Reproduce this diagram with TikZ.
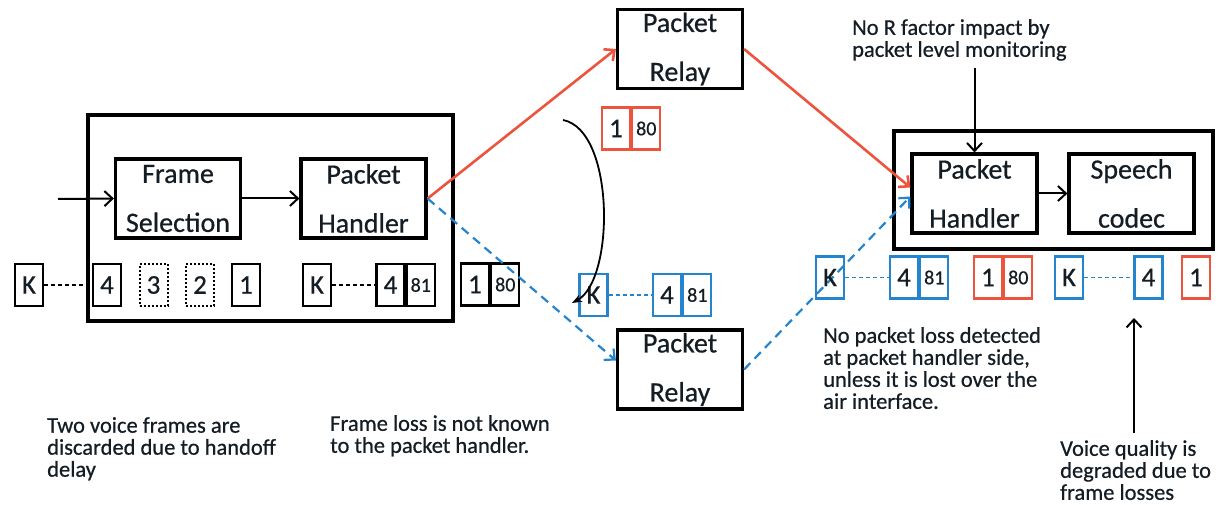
\documentclass[tikz,border=0pt]{standalone}
\usepackage{fontspec}
\setmainfont{Carlito}[FakeBold=0.6]
\usetikzlibrary{arrows.meta}

\definecolor{pathred}{RGB}{236,84,62}
\definecolor{pathblue}{RGB}{36,132,206}
\definecolor{ink}{RGB}{20,28,36}

\tikzset{
  unit/.style={draw=black, line width=3.2pt, minimum width=125pt, minimum height=79pt,
    inner sep=0pt, align=center, text=ink, font=\fontsize{28}{28}\selectfont},
  enclosure/.style={draw, line width=3.2pt, inner sep=0pt},
  pk/.style={draw, line width=2.3pt, minimum width=28pt, minimum height=42pt,
    inner sep=0pt, text=ink, font=\fontsize{27}{27}\selectfont},
  seqno/.style={pk, anchor=west, font=\fontsize{20}{20}\selectfont},
  lost/.style={pk, line width=2pt, dash pattern=on 2pt off 2pt},
  note/.style={align=left, inner sep=0pt, anchor=north west, text=ink,
    font=\fontsize{22.5}{22}\selectfont},
  gap/.style={line width=1.6pt, dash pattern=on 4pt off 3pt},
  wire/.style={->, line width=2pt},
  redpath/.style={pathred, line width=2.6pt},
  bluepath/.style={pathblue, line width=2.2pt, dash pattern=on 9pt off 6pt},
}

\begin{document}
\begin{tikzpicture}[x=1pt, y=-1pt, >={Straight Barb[length=8pt,width=15pt]}]
  \useasboundingbox (0,0) rectangle (1220,505);

  % Sending side
  \node[enclosure, minimum width=365pt, minimum height=206pt] (tx) at (270.5,218) {};
  \node[unit] (fs) at (178,198.5) {Frame\\[21pt]Selection};
  \node[unit] (ph) at (363.5,198.5) {Packet\\[21pt]Handler};
  \coordinate (in) at (58,199);
  \draw[wire] (in) -- (fs.west);
  \draw[wire] (fs) -- (ph);

  % Frames at the sending side
  \node[pk] (k1) at (29,285) {K};
  \node[pk] (f4) at (107,285) {4};
  \node[lost] (f3) at (153.5,285) {3};
  \node[lost] (f2) at (200,285) {2};
  \node[pk] (f1) at (246,285) {1};
  \draw[gap] (k1) -- (f4);
  \node[pk] (k2) at (317,285) {K};
  \node[pk] (p4) at (390.5,285) {4};
  \node[seqno] (p81) at (p4.east) {81};
  \draw[gap] (k2) -- (p4);
  \node[pk] (o1) at (475,284.5) {1};
  \node[seqno] (o80) at (o1.east) {80};

  % Relays
  \node[unit] (rtop) at (680,49) {Packet\\[21pt]Relay};
  \node[unit] (rbot) at (680,369.5) {Packet\\[21pt]Relay};

  % Receiving side
  \node[enclosure, minimum width=319pt, minimum height=118pt] (rx) at (1053.5,190) {};
  \node[unit] (rh) at (974.5,193.5) {Packet\\[21pt]Handler};
  \node[unit] (sc) at (1131.5,193.5) {Speech\\[21pt]codec};
  \draw[wire] (rh) -- (sc);

  % Paths through the relays
  \draw[redpath, ->] (ph.east) -- (rtop.west);
  \draw[redpath, ->] (rtop.east) -- ([yshift=6pt]rh.west);
  \draw[bluepath, ->] (ph.east) -- ([yshift=9pt]rbot.west);
  \draw[bluepath, ->] (rbot.east) -- ([yshift=-3pt]rh.west);

  % Packets in flight
  \node[pk, draw=pathred] (m1) at (616,128.5) {1};
  \node[seqno, draw=pathred] (m80) at (m1.east) {80};
  \node[pk, draw=pathblue] (mk) at (593.5,295) {K};
  \node[pk, draw=pathblue] (m4) at (667,295) {4};
  \node[seqno, draw=pathblue] (m81) at (m4.east) {81};
  \draw[gap, pathblue] (mk) -- (m4);
  \coordinate (sw0) at (563,120);
  \coordinate (sw1) at (572,303);
  \draw[-{Stealth[length=10pt]}, line width=1.8pt] (sw0) .. controls (615,130) and (615,280) .. (sw1);

  % Packets at the receiving side
  \node[pk, draw=pathblue] (rk1) at (830,277.5) {K};
  \node[pk, draw=pathblue] (r4) at (904,277.5) {4};
  \node[seqno, draw=pathblue] (r81) at (r4.east) {81};
  \draw[gap, pathblue] (rk1) -- (r4);
  \node[pk, draw=pathred] (r1) at (988,277.5) {1};
  \node[seqno, draw=pathred] (r80) at (r1.east) {80};
  \node[pk, draw=pathblue] (rk2) at (1069,277.5) {K};
  \node[pk, draw=pathblue] (q4) at (1148.5,277.5) {4};
  \draw[gap, pathblue] (rk2) -- (q4);
  \node[pk, draw=pathred] (q1) at (1196,277.5) {1};

  % Notes
  \node[note] (n1) at (47,417) {Two voice frames are\\discarded due to handoff\\delay};
  \node[note] (n2) at (330,415) {Frame loss is not known\\to the packet handler.};
  \node[note] (n3) at (823,327) {No packet loss detected\\at packet handler side,\\unless it is lost over the\\air interface.};
  \node[note] (n4) at (1060,440) {Voice quality is\\degraded due to\\frame losses};
  \node[note] (n5) at (852,19) {No R factor impact by\\packet level monitoring};
  \coordinate (mon) at (974.5,68);
  \draw[wire] (mon) -- (rh.north);
  \coordinate (deg) at (1134,433);
  \coordinate (degtip) at (1134,318);
  \draw[wire] (deg) -- (degtip);
\end{tikzpicture}
\end{document}
